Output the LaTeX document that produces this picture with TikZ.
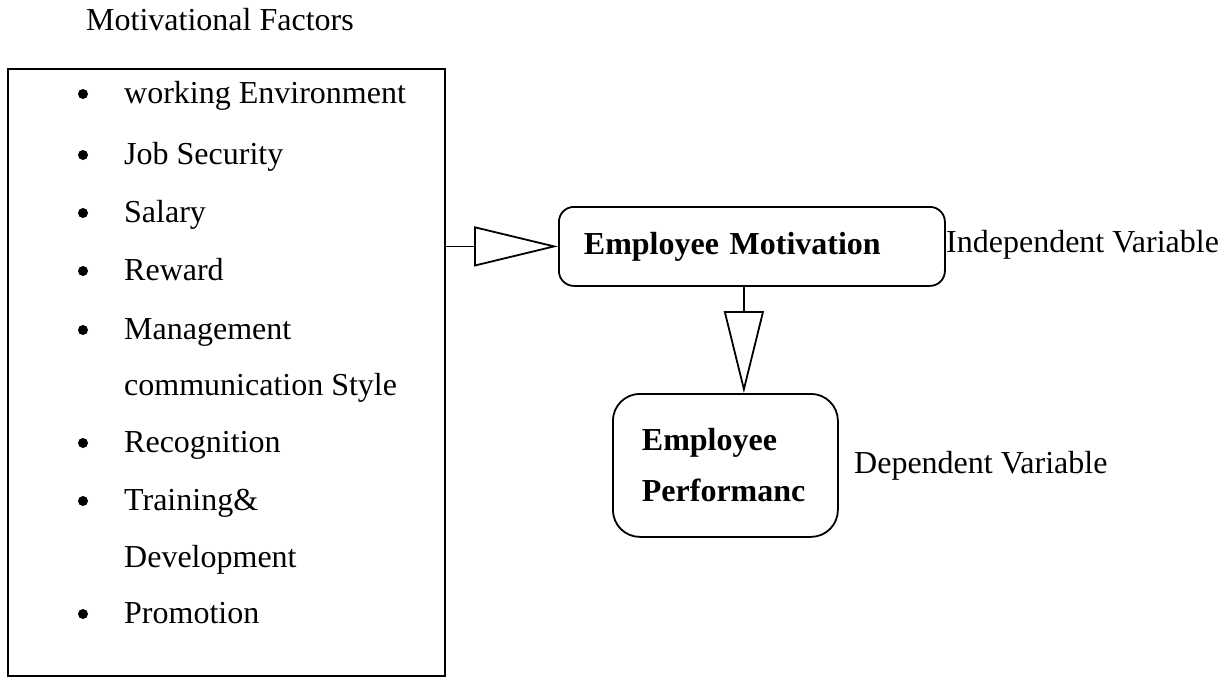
\documentclass[tikz,border=0pt]{standalone}
\usepackage{fontspec}
\setmainfont{Liberation Serif}
\usetikzlibrary{arrows.meta}
\begin{document}
\begin{tikzpicture}[x=1pt,y=-1pt,
  every node/.style={font=\fontsize{32}{55}\selectfont, inner sep=0pt},
  txt/.style={anchor=base west},
  dot/.style={circle, fill, minimum size=10pt},
  plainbox/.style={draw, line width=1.8pt, anchor=north west},
  rbox/.style={draw, line width=1.8pt, anchor=north west, align=left},
  bigtip/.style={line width=1.8pt, line join=miter,
    -{Triangle[open, length=84pt, width=40pt, line width=1.8pt]}},
  bigtipdown/.style={line width=1.8pt, line join=miter,
    -{Triangle[open, length=82pt, width=40pt, line width=1.8pt]}}]
\useasboundingbox (0,0) rectangle (1225,677);

% heading over the factor list
\node[txt] (title) at (86,31) {Motivational Factors};

% box holding the list of factors
\node[plainbox, minimum width=437pt, minimum height=607pt] (fbox) at (7,68) {};

% bullets and items
\foreach \y/\t [count=\i] in {103/working Environment, 164/Job Security, 222/Salary,
    280/Reward, 339/Management, 452/Recognition, 510/Training\&, 623/Promotion}{
  \node[dot] (b\i) at (83,\y-9) {};
  \node[txt] (it\i) at (124,\y) {\t};
}
\node[txt] (it5b) at (124,395) {communication Style};
\node[txt] (it7b) at (124,567) {Development};

% independent variable box
\node[rbox, rounded corners=15pt, minimum height=79pt,
      text width=336pt, inner xsep=25pt, font=\fontsize{32}{55}\selectfont\bfseries]
  (emot) at (558,206) {Employee Motivation};
\node[txt] (indep) at (946,252) {Independent Variable};

% dependent variable box
\node[rbox, rounded corners=27pt, minimum height=143pt,
      text width=167pt, inner xsep=29pt, font=\fontsize{32}{55}\selectfont\bfseries]
  (perf) at (612,393) {\raisebox{-4pt}{Employee}\\Performanc};
\node[txt] (dep) at (854,473) {Dependent Variable};

% connectors
\draw[bigtip] (fbox.east |- emot.west) -- (emot.west);
\draw[bigtipdown] ([xshift=-8pt]emot.south) -- ([xshift=-8pt]emot.south |- perf.north);
\end{tikzpicture}
\end{document}
